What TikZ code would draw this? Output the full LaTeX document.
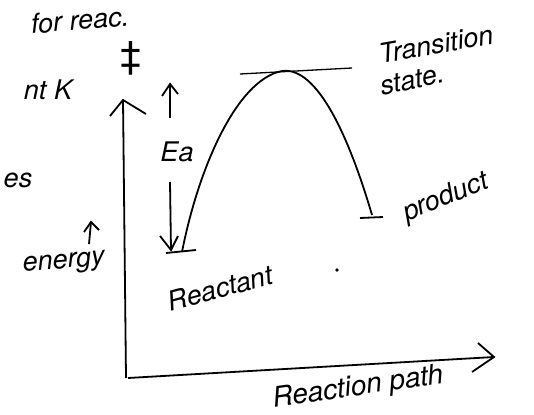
\documentclass[tikz,border=0pt]{standalone}
\usepackage{fontspec}
\setmainfont{TeX Gyre Heros}
\tikzset{every picture/.style={line width=1.8pt}}
\tikzset{hand/.style={inner sep=0.75pt,font=\fontsize{27}{29}\selectfont\itshape}}

\begin{document}
\begin{tikzpicture}[x=1pt,y=1pt,yscale=-1,xscale=1]
\useasboundingbox (0,0) rectangle (534,414);

%Straight Lines [id:energy axis] 
\draw    (126,378) -- (123,100) ;
\draw    (110,116) -- (123,100) -- (146,114) ;
%Straight Lines [id:path axis] 
\draw    (128,378) -- (494,357) ;
\draw    (478,343) -- (494,357) -- (472,372) ;

%Curve Lines [id:profile] 
\draw    (182,252) .. controls (198,170) and (236,80) .. (282,71) .. controls (318,66) and (350,140) .. (372,215) ;
%Straight Lines [id:transition level] 
\draw [line width=1.3pt]   (240,74) -- (352,68) ;
%Straight Lines [id:product level] 
\draw    (360,218) -- (383,217) ;
%Straight Lines [id:reactant level] 
\draw    (166,253) -- (196,250) ;

%Straight Lines [id:Ea up] 
\draw    (170,118) -- (170,84) ;
\draw    (162,96) -- (170,84) -- (178,94) ;
%Straight Lines [id:Ea down] 
\draw    (170,182) -- (171,250) ;
\draw    (160,236) -- (171,250) -- (178,236) ;

%Straight Lines [id:energy arrow] 
\draw    (89,244) -- (91,222) ;
\draw    (84,232) -- (91,222) -- (99,230) ;

%Shape: Circle [id:dot] 
\fill (337,270) circle (1.8) ;

% Text Node
\draw (177,152) node [hand] (ea) {Ea};
% Text Node
\draw (131,58) node [hand,font=\fontsize{38}{38}\selectfont] (dagger) {‡};
% Text Node
\draw (48,90) node [hand] (rate) {nt K};
% Text Node
\draw (18,180) node [hand] (side) {es};
% Text Node
\draw (80,20) node [hand,rotate=5] (top) {for reac.};
% Text Node
\draw (436,44) node [hand,rotate=10] (ts1) {Transition};
% Text Node
\draw (412,80) node [hand,rotate=12] (ts2) {state.};
% Text Node
\draw (446,198) node [hand,rotate=22] (prod) {product};
% Text Node
\draw (220,288) node [hand,rotate=15] (react) {Reactant};
% Text Node
\draw (64,264) node [hand,rotate=5] (energy) {energy};
% Text Node
\draw (358,388) node [hand,rotate=8,font=\fontsize{28}{30}\selectfont\itshape] (path) {Reaction path};

\end{tikzpicture}
\end{document}
